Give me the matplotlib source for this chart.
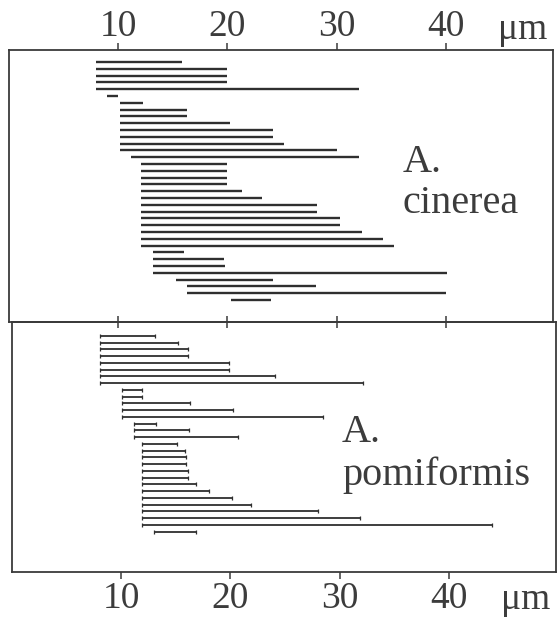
import matplotlib
matplotlib.use("Agg")
import matplotlib.pyplot as plt
import matplotlib.transforms as mtransforms
import numpy as np

plt.rcParams['font.family'] = ['Liberation Serif', 'DejaVu Serif']

# ---- data (µm) ----
cinerea_start = [8, 8, 8, 8, 8, 9, 10.2, 10.2, 10.2, 10.2, 10.2, 10.2, 10.2, 10.2, 11.2,
                 12.1, 12.1, 12.1, 12.1, 12.1, 12.1, 12.1, 12.1, 12.1, 12.1, 12.1, 12.1, 12.1,
                 13.2, 13.2, 13.2, 13.2, 15.3, 16.3, 16.3, 20.3]
cinerea_end = [15.8, 20, 20, 20, 32, 10, 12.3, 16.3, 16.3, 20.2, 24.2, 24.2, 25.2, 30, 32,
               20, 20, 20, 20, 21.3, 23.2, 28.2, 28.2, 30.3, 30.3, 32.3, 34.2, 35.2,
               16, 19.7, 19.8, 40.1, 24.2, 28.1, 40, 24]

pomiformis_start = [8.1, 8.1, 8.1, 8.1, 8.1, 8.1, 8.1, 8.1, 10.1, 10.1, 10.1, 10.1, 10.1,
                    11.2, 11.2, 11.2, 11.9, 11.9, 11.9, 11.9, 11.9, 11.9, 11.9, 11.9, 11.9,
                    11.9, 11.9, 11.9, 11.9, 13.0]
pomiformis_end = [13.1, 15.2, 16.1, 16.1, 19.9, 19.9, 24.1, 32.1, 11.9, 11.9, 16.3, 20.2, 28.5,
                  13.2, 16.2, 20.7, 15.1, 15.8, 15.9, 15.9, 16.1, 16.1, 16.8, 18.0, 20.1,
                  21.9, 28.0, 31.9, 43.9, 16.8]

tick_values = [10, 20, 30, 40]
tick_labels = ["10", "20", "30", "40"]
unit_label = "μm"
labels_top = ["A.", "cinerea"]
labels_bottom = ["A.", "pomiformis"]

W, H = 559, 617
fig = plt.figure(figsize=(W / 100, H / 100), dpi=100)
fig.patch.set_facecolor('white')

line_col = '#2f2f2f'
frame_col = '#3a3a3a'
text_col = '#3c3c3c'
FS_TICK = 27
FS_NAME = 29

ax1 = fig.add_axes([9 / W, (H - 322) / H, (553 - 9) / W, 272 / H])
ax2 = fig.add_axes([12 / W, (H - 572) / H, (553 - 9) / W, 250 / H])

for ax in (ax1, ax2):
    ax.set_xlim(0, 49.8)
    ax.set_yticks([])
    for s in ax.spines.values():
        s.set_color(frame_col)
        s.set_linewidth(1.3)
    ax.set_xticks(tick_values)
    ax.set_facecolor('none')

# top panel
y1 = np.arange(1, len(cinerea_start) + 1)
ax1.hlines(y1, cinerea_start, cinerea_end, color=line_col, linewidth=1.7)
ax1.set_ylim(39.24, -0.76)
ax1.tick_params(axis='x', which='both', top=True, bottom=True, labeltop=True, labelbottom=False,
                direction='inout', length=8, width=1.1, color=frame_col,
                labelsize=FS_TICK, labelcolor=text_col, pad=0)
ax1.set_xticklabels(tick_labels)
for t in ax1.xaxis.get_major_ticks():
    t.tick2line.set_marker(matplotlib.lines.TICKUP)
    t.tick2line.set_markersize(5)

ax1.text(36.0, 17.18, labels_top[0], fontsize=FS_NAME, color=text_col, va='baseline', ha='left')
ax1.text(36.0, 23.2, labels_top[1], fontsize=FS_NAME, color=text_col, va='baseline', ha='left')

# bottom panel
y2 = np.arange(1, len(pomiformis_start) + 1)
ax2.hlines(y2, pomiformis_start, pomiformis_end, color=line_col, linewidth=1.3)
ax2.plot(pomiformis_start, y2, linestyle='none', marker='|', markersize=2.5,
         markeredgewidth=0.9, color=line_col)
ax2.plot(pomiformis_end, y2, linestyle='none', marker='|', markersize=2.5,
         markeredgewidth=0.9, color=line_col)
ax2.set_ylim(35.97, -1.07)
ax2.tick_params(axis='x', which='both', top=False, bottom=True, labeltop=False, labelbottom=True,
                direction='out', length=5, width=1.1, color=frame_col,
                labelsize=FS_TICK, labelcolor=text_col, pad=2)
ax2.set_xticklabels(tick_labels)

ax2.text(30.2, 16.7, labels_bottom[0], fontsize=FS_NAME, color=text_col, va='baseline', ha='left')
ax2.text(30.2, 23.07, labels_bottom[1], fontsize=FS_NAME, color=text_col, va='baseline', ha='left')

# unit labels
tr1 = mtransforms.blended_transform_factory(ax1.transData, ax1.transAxes)
tr1o = mtransforms.offset_copy(tr1, fig=fig, x=0, y=11 * 0.72, units='points')
ax1.text(47.0, 1.0, unit_label, transform=tr1o, fontsize=FS_TICK, color=text_col,
         ha='center', va='baseline', clip_on=False)
tr2 = mtransforms.blended_transform_factory(ax2.transData, ax2.transAxes)
tr2o = mtransforms.offset_copy(tr2, fig=fig, x=0, y=-37 * 0.72, units='points')
ax2.text(47.0, 0.0, unit_label, transform=tr2o, fontsize=FS_TICK, color=text_col,
         ha='center', va='baseline', clip_on=False)

fig.savefig('out.png', dpi=100, facecolor='white')
